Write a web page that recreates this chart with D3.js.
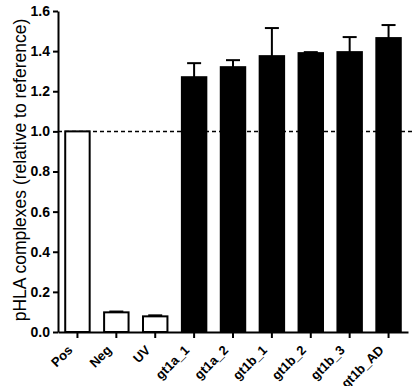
<!DOCTYPE html>
<html>
<head>
<meta charset="utf-8">
<script src="https://cdn.jsdelivr.net/npm/d3@7.9.0/dist/d3.min.js"></script>
<style>
  body { margin: 0; background: #fff; }
  text { font-family: "Liberation Sans", Arial, sans-serif; }
</style>
</head>
<body>
<div id="chart"></div>
<script>
const categories = ["Pos", "Neg", "UV", "gt1a_1", "gt1a_2", "gt1b_1", "gt1b_2", "gt1b_3", "gt1b_AD"];
const means = [1.0, 0.098, 0.078, 1.27, 1.32, 1.375, 1.39, 1.395, 1.465];
const errors = [0, 0.004, 0.005, 0.07, 0.035, 0.14, 0.005, 0.075, 0.065];
const filled = [false, false, false, true, true, true, true, true, true];
const yTicks = [0, 0.2, 0.4, 0.6, 0.8, 1.0, 1.2, 1.4, 1.6];
const referenceLevel = 1.0;

const width = 414, height = 386;
const margin = { top: 11, right: 6, bottom: 54, left: 58 };

const data = categories.map((c, i) => ({
  name: c, mean: means[i], err: errors[i], filled: filled[i]
}));

const svg = d3.select("#chart").append("svg")
  .attr("width", width)
  .attr("height", height);

const x = d3.scaleBand()
  .domain(categories)
  .range([margin.left, width - margin.right])
  .paddingInner(0.32)
  .paddingOuter(0.16);

const y = d3.scaleLinear()
  .domain([0, 1.6])
  .range([height - margin.bottom, margin.top]);

// dashed reference line at 1.0
svg.append("line")
  .attr("x1", margin.left)
  .attr("x2", width)
  .attr("y1", y(referenceLevel))
  .attr("y2", y(referenceLevel))
  .attr("stroke", "#000")
  .attr("stroke-width", 1.5)
  .attr("stroke-dasharray", "4,3");

// error bars (upper only)
const err = svg.append("g").attr("stroke", "#000").attr("stroke-width", 2);
data.filter((d) => d.err > 0).forEach((d) => {
  const cx = x(d.name) + x.bandwidth() / 2;
  err.append("line")
    .attr("x1", cx).attr("x2", cx)
    .attr("y1", y(d.mean)).attr("y2", y(d.mean + d.err));
  err.append("line")
    .attr("x1", cx - 7).attr("x2", cx + 7)
    .attr("y1", y(d.mean + d.err)).attr("y2", y(d.mean + d.err));
});

// bars
svg.append("g")
  .selectAll("rect")
  .data(data)
  .join("rect")
  .attr("x", (d) => x(d.name) + 1)
  .attr("y", (d) => y(d.mean))
  .attr("width", x.bandwidth() - 2)
  .attr("height", (d) => y(0) - y(d.mean))
  .attr("fill", (d) => (d.filled ? "#000" : "#fff"))
  .attr("stroke", "#000")
  .attr("stroke-width", 2);

// y axis
const yAxis = svg.append("g")
  .attr("transform", `translate(${margin.left},0)`)
  .call(d3.axisLeft(y).tickValues(yTicks).tickFormat(d3.format(".1f")).tickSize(5).tickSizeOuter(0));
yAxis.select(".domain").attr("stroke-width", 2);
yAxis.selectAll(".tick line").attr("stroke-width", 2);
yAxis.selectAll(".tick text")
  .attr("font-size", 14)
  .attr("font-weight", "bold")
  .attr("font-family", "Liberation Sans, Arial, sans-serif")
  .attr("x", -8);

// x axis
const xAxis = svg.append("g")
  .attr("transform", `translate(0,${y(0)})`)
  .call(d3.axisBottom(x).tickSize(6).tickSizeOuter(0));
xAxis.select(".domain").attr("stroke-width", 2);
xAxis.selectAll(".tick line").attr("stroke-width", 2);
xAxis.selectAll(".tick text")
  .attr("font-size", 13)
  .attr("font-weight", "bold")
  .attr("font-family", "Liberation Sans, Arial, sans-serif")
  .attr("text-anchor", "end")
  .attr("dy", null)
  .attr("y", 0)
  .attr("transform", "translate(-4,19) rotate(-45)");

// y title
svg.append("text")
  .attr("transform", `translate(26,170) rotate(-90)`)
  .attr("text-anchor", "middle")
  .attr("font-size", 17.5)
  .text("pHLA complexes (relative to reference)");
</script>
</body>
</html>
